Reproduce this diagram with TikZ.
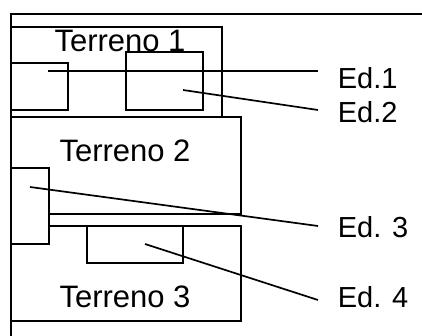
\documentclass[tikz,border=0pt]{standalone}
\usepackage{fontspec}
\setmainfont{Liberation Sans}

\begin{document}
\begin{tikzpicture}[x=1pt,y=-1pt,line width=1.7pt,
  lote/.style={draw=black,fill=white},
  lotename/.style={font=\fontsize{31}{31}\selectfont,anchor=base,inner sep=0pt},
  edname/.style={font=\fontsize{29}{29}\selectfont,anchor=base west,inner sep=0pt}]
  \path[use as bounding box] (0,0) rectangle (422,336);

  % frame
  \draw[line width=2.2pt] (422,14) -- (11,14) -- (11,336);

  % plots
  \draw[lote] (11,27) rectangle (222,117);
  \draw[lote] (11,117) rectangle (241,214);
  \draw[lote] (11,226) rectangle (241,321);

  % buildings
  \draw[lote] (11,63) rectangle (68,110);
  \draw[lote] (126,52) rectangle (203,110);
  \draw[lote] (11,168) rectangle (49,244);
  \draw[lote] (87,226) rectangle (183,263);

  \node[lotename] (t1) at (120,52) {Terreno 1};
  \node[lotename] (t2) at (125,162) {Terreno 2};
  \node[lotename] (t3) at (125,307) {Terreno 3};

  \node[edname] (e1) at (337,89) {Ed.1};
  \node[edname] (e2) at (337,123) {Ed.2};
  \node[edname] (e3) at (337,237) {Ed. 3};
  \node[edname] (e4) at (337,307) {Ed. 4};

  % leaders
  \coordinate (a1) at (48,71);   \coordinate (b1) at (318,71);
  \coordinate (a2) at (183,90);  \coordinate (b2) at (318,110);
  \coordinate (a3) at (30,187);  \coordinate (b3) at (318,226);
  \coordinate (a4) at (145,244); \coordinate (b4) at (318,300);

  \draw (a1) -- (b1);
  \draw (a2) -- (b2);
  \draw (a3) -- (b3);
  \draw (a4) -- (b4);
\end{tikzpicture}
\end{document}
